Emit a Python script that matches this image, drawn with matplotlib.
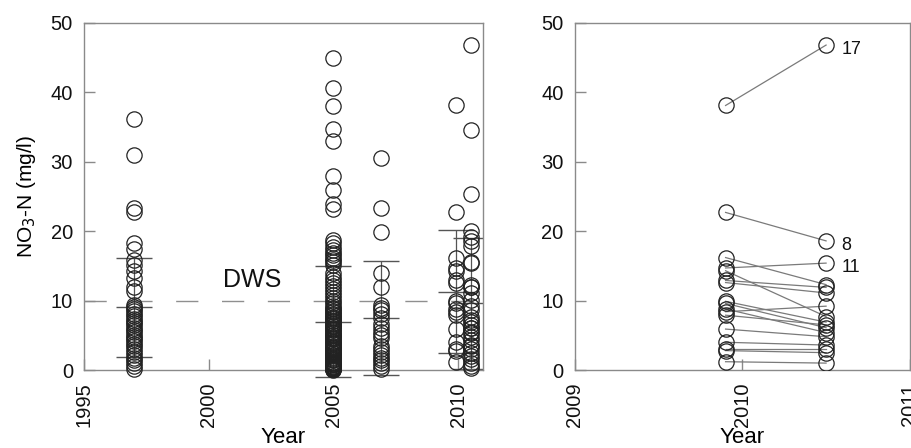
import numpy as np
import matplotlib
matplotlib.use("Agg")
import matplotlib.pyplot as plt

plt.rcParams['font.family'] = ['Liberation Sans', 'DejaVu Sans']

# ---------------------------------------------------------------------------
# Data
# ---------------------------------------------------------------------------
x_1997 = 1997.0
no3_1997 = [36.1, 30.9, 23.3, 22.8, 18.3, 17.4, 15.8, 15.1, 14.3, 13.2, 12.0, 11.4,
            9.4, 9.1, 8.8, 8.5, 8.1, 7.8, 7.4, 7.1, 6.8, 6.5, 6.1, 5.8, 5.5, 5.1,
            4.8, 4.5, 4.2, 3.8, 3.4, 3.0, 2.6, 2.2, 1.8, 1.4, 1.0, 0.6, 0.2]

x_2005 = 2005.0
no3_2005 = [45.0, 40.6, 38.0, 34.7, 33.0, 27.9, 26.0, 23.9, 23.2,
            18.8, 18.3, 17.7, 17.3, 16.9, 16.6, 16.2, 15.8, 15.5, 15.1, 14.0, 13.4,
            12.9, 12.5, 12.1, 11.7, 11.2, 10.8, 10.4, 10.0, 9.6, 9.2, 8.8, 8.5, 8.1,
            7.7, 7.3, 7.0, 6.6, 6.3, 5.9, 5.5, 5.1, 4.8, 4.4, 4.0, 3.7, 3.3, 3.0,
            2.7, 2.4, 2.1, 1.8, 1.6, 1.4, 1.2, 1.0, 0.9, 0.8, 0.7, 0.6, 0.5, 0.4,
            0.3, 0.3, 0.2, 0.2, 0.1, 0.1, 0.0,
            8.9, 8.3, 7.9, 7.5, 7.1, 6.8, 6.4, 6.1, 5.7, 5.3, 5.0, 4.6, 4.2, 3.9,
            3.5, 3.2, 2.9, 2.5, 2.2, 1.9, 1.5, 1.1, 0.8, 0.5, 0.2]

x_2007 = 2006.9
no3_2007 = [30.6, 23.3, 19.9, 14.0, 11.9, 9.4, 9.0, 8.6, 8.0, 7.5, 6.7, 6.0, 5.5,
            5.0, 4.6, 3.4, 3.0, 2.6, 2.2, 1.8, 1.4, 1.0, 0.6, 0.2]

# paired wells sampled twice (right panel)
x_pair_a = 2009.9
x_pair_b = 2010.5
pair_a = [38.1, 22.7, 16.2, 14.7, 14.3, 12.9, 12.6, 9.9, 9.6, 8.8, 8.4, 7.9,
          5.9, 4.0, 3.1, 2.8, 1.2]
pair_b = [46.8, 18.6, 12.3, 15.4, 7.7, 11.9, 11.1, 6.9, 6.1, 5.4, 9.2, 6.5,
          4.8, 3.6, 3.1, 2.5, 1.0]

# remaining samples of the second 2010 campaign (left panel)
no3_2010b_extra = [34.6, 25.3, 20.0, 19.2, 17.8, 15.6, 12.0, 10.1, 8.6, 7.2,
                   6.0, 5.5, 4.3, 3.4, 2.0, 1.6, 0.6, 0.3]

# mean and standard deviation bars per campaign
bar_x    = [1997.0, 2005.0, 2006.9, 2009.9, 2010.5]
bar_mean = [9.05, 6.95, 7.5, 11.3, 9.6]
bar_sd   = [7.15, 8.0, 8.25, 8.8, 9.4]

dws = 10.0

labels_txt = ['17', '8', '11']
labels_idx = [0, 1, 3]

# ---------------------------------------------------------------------------
# Styling
# ---------------------------------------------------------------------------
CIRC = '#222222'
SPINE = '#8a8a8a'
MS = 11
MEW = 0.9

fig = plt.figure(figsize=(9.11, 4.48), dpi=100)
ax1 = fig.add_axes([0.0922, 0.174, 0.438, 0.775])
ax2 = fig.add_axes([0.631, 0.174, 0.3677, 0.775])


def style(ax):
    for s in ax.spines.values():
        s.set_color(SPINE)
        s.set_linewidth(1.0)
    ax.tick_params(direction='in', length=8, width=1.0, color=SPINE,
                   labelsize=14.5, pad=8, labelcolor='#111111')
    ax.tick_params(axis='x', labelrotation=90, pad=9)
    ax.set_ylim(0, 50)
    ax.set_yticks([0, 10, 20, 30, 40, 50])
    ax.set_xlabel('Year', fontsize=16, labelpad=0)


# ---------------------------------------------------------------------------
# Left panel: all campaigns
# ---------------------------------------------------------------------------
style(ax1)
ax1.set_xlim(1995, 2011)
ax1.set_xticks([1995, 2000, 2005, 2010])
ax1.set_ylabel('NO$_3$-N (mg/l)', fontsize=15, labelpad=9)

ax1.axhline(dws, color='#8f8f8f', lw=1.0, dashes=(16, 17), zorder=1)
ax1.text(2001.75, 13.0, 'DWS', fontsize=18, ha='center', va='center',
         color='#111111')

half = 0.72
for xb, m, s in zip(bar_x, bar_mean, bar_sd):
    ax1.vlines(xb, m - s, m + s, color='#555555', lw=0.9, zorder=2)
    ax1.hlines([m - s, m, m + s], xb - half, xb + half, color='#555555',
               lw=1.0, zorder=2, clip_on=False if xb < 2010 else True)

groups = [
    (x_1997, no3_1997),
    (x_2005, no3_2005),
    (x_2007, no3_2007),
    (x_pair_a, pair_a),
    (x_pair_b, pair_b + no3_2010b_extra),
]
for xg, vals in groups:
    ax1.plot(np.full(len(vals), xg), vals, 'o', ms=MS, mfc='none',
             mec=CIRC, mew=MEW, zorder=3, clip_on=False)

# ---------------------------------------------------------------------------
# Right panel: paired wells
# ---------------------------------------------------------------------------
style(ax2)
ax2.set_xlim(2009, 2011)
ax2.set_xticks([2009, 2010, 2011])

for a, b in zip(pair_a, pair_b):
    ax2.plot([x_pair_a, x_pair_b], [a, b], color='#7a7a7a', lw=0.9, zorder=2)
ax2.plot(np.full(len(pair_a), x_pair_a), pair_a, 'o', ms=MS, mfc='none',
         mec=CIRC, mew=MEW, zorder=3)
ax2.plot(np.full(len(pair_b), x_pair_b), pair_b, 'o', ms=MS, mfc='none',
         mec=CIRC, mew=MEW, zorder=3)

for txt, i in zip(labels_txt, labels_idx):
    ax2.annotate(txt, (x_pair_b, pair_b[i]), xytext=(11, -3),
                 textcoords='offset points', fontsize=13, va='center',
                 ha='left', color='#111111')

fig.savefig('out.png', dpi=100)
